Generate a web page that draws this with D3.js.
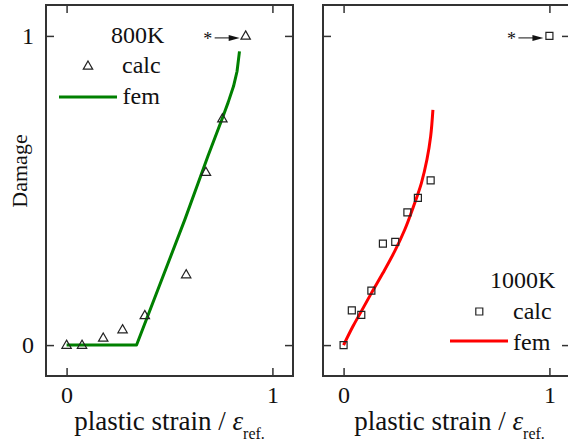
<!DOCTYPE html>
<html>
<head>
<meta charset="utf-8">
<script src="https://cdnjs.cloudflare.com/ajax/libs/d3/7.8.5/d3.min.js"></script>
<style>
body { margin: 0; background: #fff; }
text { font-family: "Liberation Serif", "Times New Roman", serif; fill: #111; }
</style>
</head>
<body>
<svg></svg>
<script>
// shared axes
var tickValues = [0, 1];
var tickLabels = ['0', '1'];

// 800K panel
var calc800X = [0, 0.075, 0.178, 0.272, 0.38, 0.581, 0.677, 0.757, 0.87];
var calc800Y = [0, 0, 0.023, 0.05, 0.096, 0.228, 0.559, 0.732, 1.0];
var fem800X = [0, 0.34, 0.574, 0.686, 0.754, 0.785, 0.811, 0.828, 0.84];
var fem800Y = [0, 0, 0.405, 0.61, 0.729, 0.785, 0.837, 0.885, 0.95];

// 1000K panel
var calc1000X = [0, 0.04, 0.086, 0.135, 0.191, 0.251, 0.31, 0.361, 0.423, 1.0];
var calc1000Y = [0, 0.112, 0.098, 0.176, 0.328, 0.334, 0.429, 0.476, 0.533, 1.0];
var fem1000X = [0, 0.045, 0.086, 0.135, 0.191, 0.248, 0.297, 0.34, 0.378, 0.405, 0.423, 0.434];
var fem1000Y = [0, 0.06, 0.109, 0.168, 0.233, 0.303, 0.373, 0.449, 0.524, 0.6, 0.675, 0.761];

var width = 568, height = 443;

var svg = d3.select('svg')
    .attr('width', width)
    .attr('height', height);

var zip = function(xs, ys) {
    return xs.map(function(x, i) { return [x, ys[i]]; });
};

var trianglePath = 'M0,-5L4.7,3.2L-4.7,3.2Z';
var squarePath = 'M-3.5,-3.5H3.5V3.5H-3.5Z';

var panels = [{
    left: 46, top: 5, w: 247, h: 371,
    title: '800K', color: '#008000', marker: trianglePath,
    calc: zip(calc800X, calc800Y), fem: zip(fem800X, fem800Y),
    curve: d3.curveLinear, yLabels: true, labelShift: 0,
    legend: { title: [111, 43], marker: [88, 66], calc: [122, 73], line: [59, 117, 97], fem: [122.5, 104] }
}, {
    left: 323, top: 5, w: 247, h: 371,
    title: '1000K', color: '#ff0000', marker: squarePath,
    calc: zip(calc1000X, calc1000Y), fem: zip(fem1000X, fem1000Y),
    curve: d3.curveCatmullRom, yLabels: false, labelShift: 3,
    legend: { title: [490, 288], marker: [479.3, 311.5], calc: [513, 318.5], line: [450, 508, 341], fem: [513, 350] }
}];

var drawPanel = function(p) {
    var x = d3.scaleLinear().domain([-0.1, 1.1]).range([p.left, p.left + p.w]);
    var y = d3.scaleLinear().domain([-0.1, 1.1]).range([p.top + p.h, p.top]);

    var fmt = function(d, i) { return tickLabels[i]; };

    var axes = [
        { a: d3.axisBottom(x).tickSizeInner(-8).tickPadding(10).tickFormat(fmt), t: 'translate(0,' + (p.top + p.h) + ')' },
        { a: d3.axisTop(x).tickSizeInner(-8).tickFormat(''), t: 'translate(0,' + p.top + ')' },
        { a: d3.axisLeft(y).tickSizeInner(-8).tickPadding(12).tickFormat(p.yLabels ? fmt : ''), t: 'translate(' + p.left + ',0)' },
        { a: d3.axisRight(y).tickSizeInner(-8).tickFormat(''), t: 'translate(' + (p.left + p.w) + ',0)' }
    ];

    axes.forEach(function(ax) {
        var g = svg.append('g')
            .attr('transform', ax.t)
            .call(ax.a.tickValues(tickValues).tickSizeOuter(0));
        g.select('.domain').remove();
        g.selectAll('line').attr('stroke', '#333').attr('stroke-width', 1.5);
        g.selectAll('text')
            .attr('font-size', 24)
            .attr('font-family', '"Liberation Serif", serif')
            .attr('fill', '#111');
    });

    svg.append('rect')
        .attr('x', p.left)
        .attr('y', p.top)
        .attr('width', p.w)
        .attr('height', p.h)
        .attr('fill', 'none')
        .attr('stroke', '#333')
        .attr('stroke-width', 2);

    var line = d3.line()
        .x(function(d) { return x(d[0]); })
        .y(function(d) { return y(d[1]); })
        .curve(p.curve);

    svg.append('path')
        .datum(p.fem)
        .attr('d', line)
        .attr('fill', 'none')
        .attr('stroke', p.color)
        .attr('stroke-width', 3)
        .attr('stroke-linejoin', 'round');

    svg.selectAll(null)
        .data(p.calc)
        .enter()
        .append('path')
        .attr('d', p.marker)
        .attr('transform', function(d) { return 'translate(' + x(d[0]) + ',' + y(d[1]) + ')'; })
        .attr('fill', 'none')
        .attr('stroke', '#222')
        .attr('stroke-width', 1.2);

    // asterisk with arrow pointing to the last calc point
    var last = p.calc[p.calc.length - 1];
    var lx = x(last[0]), ly = y(last[1]) + 2;
    svg.append('text')
        .text('*')
        .attr('x', lx - 38)
        .attr('y', ly + 7)
        .attr('text-anchor', 'middle')
        .attr('font-size', 18);
    svg.append('line')
        .attr('x1', lx - 31).attr('x2', lx - 14)
        .attr('y1', ly).attr('y2', ly)
        .attr('stroke', '#111').attr('stroke-width', 1);
    svg.append('path')
        .attr('d', 'M' + (lx - 6) + ',' + ly + 'L' + (lx - 17) + ',' + (ly - 3) + 'L' + (lx - 17) + ',' + (ly + 3) + 'Z')
        .attr('fill', '#111');

    // legend
    var L = p.legend;
    svg.append('text').text(p.title)
        .attr('x', L.title[0]).attr('y', L.title[1]).attr('font-size', 24);
    svg.append('path')
        .attr('d', p.marker)
        .attr('transform', 'translate(' + L.marker[0] + ',' + L.marker[1] + ')')
        .attr('fill', 'none').attr('stroke', '#222').attr('stroke-width', 1.2);
    svg.append('text').text('calc')
        .attr('x', L.calc[0]).attr('y', L.calc[1]).attr('font-size', 24);
    svg.append('line')
        .attr('x1', L.line[0]).attr('x2', L.line[1])
        .attr('y1', L.line[2]).attr('y2', L.line[2])
        .attr('stroke', p.color).attr('stroke-width', 3);
    svg.append('text').text('fem')
        .attr('x', L.fem[0]).attr('y', L.fem[1]).attr('font-size', 24);

    // x axis title
    var xt = svg.append('text')
        .attr('x', p.left + p.w / 2 + p.labelShift)
        .attr('y', 430)
        .attr('text-anchor', 'middle')
        .attr('font-size', 27);
    xt.append('tspan').text('plastic strain / ');
    xt.append('tspan').text('ε').attr('font-style', 'italic');
    xt.append('tspan').text('ref.').attr('font-size', 16).attr('dy', 9);
};

panels.forEach(drawPanel);

svg.append('text')
    .text('Damage')
    .attr('transform', 'translate(27,171) rotate(-90)')
    .attr('text-anchor', 'middle')
    .attr('font-size', 22);
</script>
</body>
</html>
